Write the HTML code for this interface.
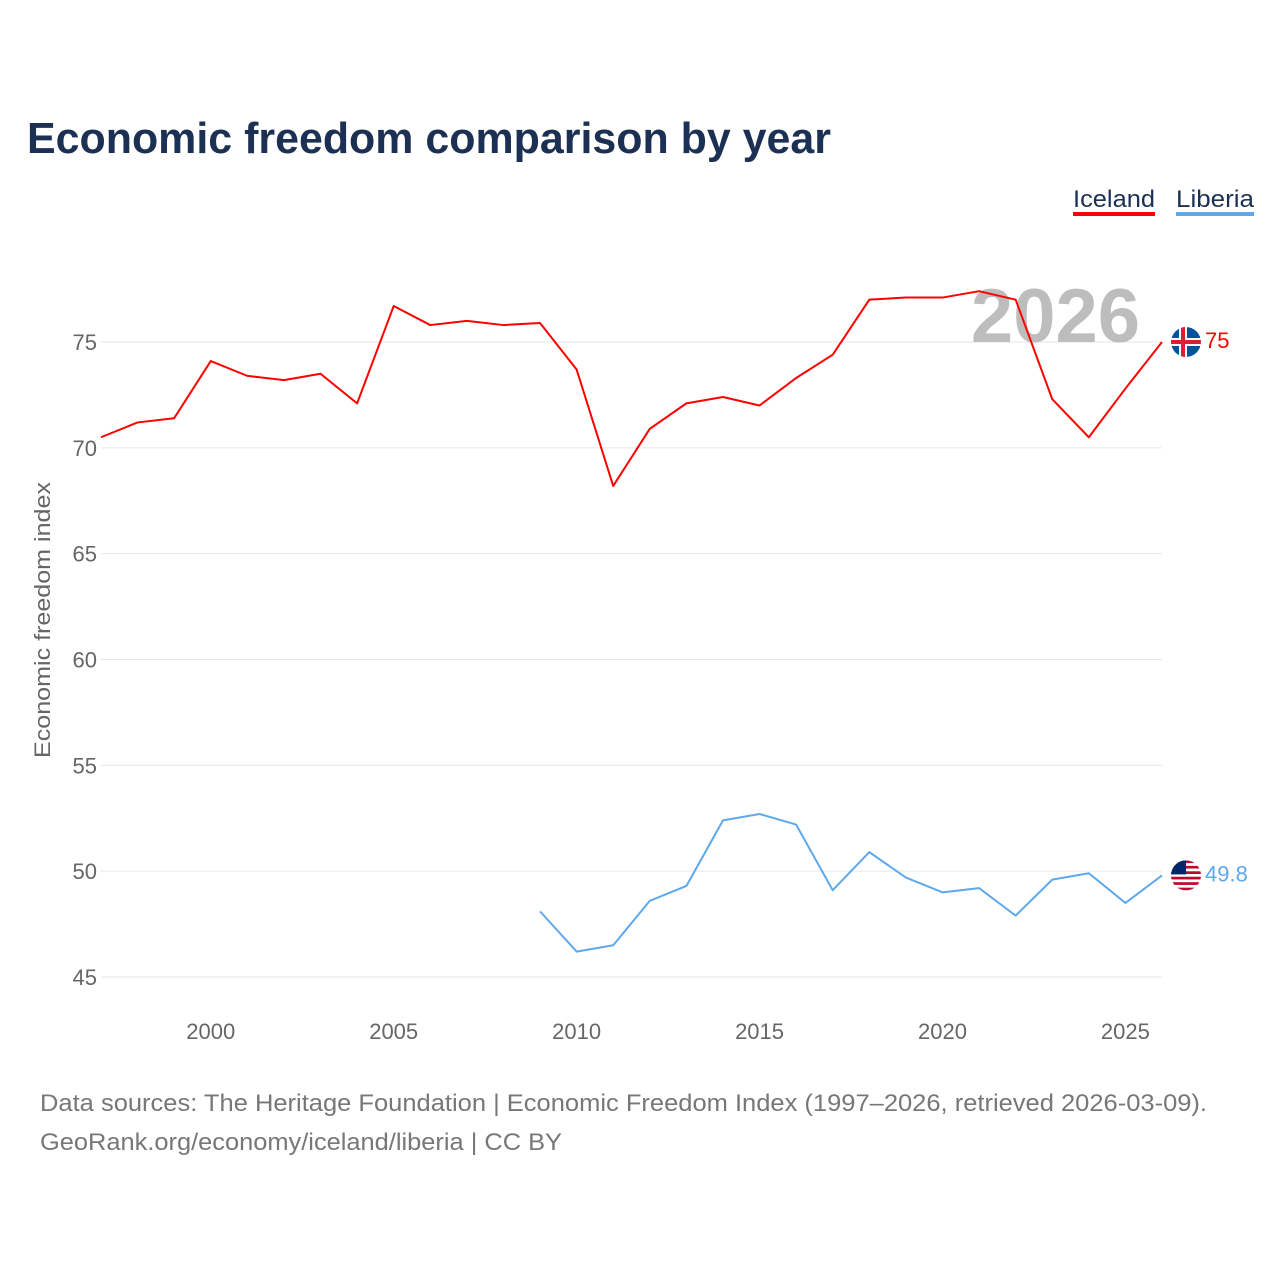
<!DOCTYPE html>
<html><head><meta charset="utf-8"><style>
body{margin:0;background:#fff;font-family:"Liberation Sans",sans-serif}
</style></head><body>
<svg width="1280" height="1280" viewBox="0 0 1280 1280" xmlns="http://www.w3.org/2000/svg" font-family="Liberation Sans, sans-serif">
<defs><clipPath id="lclip"><circle id="lclipc" cx="1186" cy="874" r="15"/></clipPath><clipPath id="iclip"><circle id="iclipc" cx="1186" cy="342" r="15"/></clipPath></defs>
<rect width="1280" height="1280" fill="#fff"/>
<text x="27" y="153" font-size="44" font-weight="bold" fill="#1b3052" textLength="804" lengthAdjust="spacingAndGlyphs">Economic freedom comparison by year</text>
<g>
<text x="1073" y="207" font-size="24" fill="#1b3052" textLength="82" lengthAdjust="spacingAndGlyphs">Iceland</text>
<rect x="1073" y="212" width="82" height="4" fill="#ff0000"/>
<text x="1176" y="207" font-size="24" fill="#1b3052" textLength="78" lengthAdjust="spacingAndGlyphs">Liberia</text>
<rect x="1176" y="212" width="78" height="4" fill="#5ea8ec"/>
</g>
<g id="grid"></g>
<text x="1140" y="342" font-size="76" font-weight="bold" fill="#bdbdbd" text-anchor="end">2026</text>
<g id="yt"></g>
<g id="xt"></g>
<text transform="translate(50,620) rotate(-90)" font-size="22" fill="#666" text-anchor="middle" textLength="276" lengthAdjust="spacingAndGlyphs">Economic freedom index</text>
<g id="series"></g>
<text x="40" y="1111" font-size="24" fill="#777" textLength="1167" lengthAdjust="spacingAndGlyphs">Data sources: The Heritage Foundation | Economic Freedom Index (1997–2026, retrieved 2026-03-09).</text>
<text x="40" y="1150" font-size="24" fill="#777" textLength="522" lengthAdjust="spacingAndGlyphs">GeoRank.org/economy/iceland/liberia | CC BY</text>
</svg>
<script>
const years=[1997,1998,1999,2000,2001,2002,2003,2004,2005,2006,2007,2008,2009,2010,2011,2012,2013,2014,2015,2016,2017,2018,2019,2020,2021,2022,2023,2024,2025,2026];
const iceland=[70.5,71.2,71.4,74.1,73.4,73.2,73.5,72.1,76.7,75.8,76.0,75.8,75.9,73.7,68.2,70.9,72.1,72.4,72.0,73.3,74.4,77.0,77.1,77.1,77.4,77.0,72.3,70.5,72.8,75.0];
const liberiaYears=[2009,2010,2011,2012,2013,2014,2015,2016,2017,2018,2019,2020,2021,2022,2023,2024,2025,2026];
const liberia=[48.1,46.2,46.5,48.6,49.3,52.4,52.7,52.2,49.1,50.9,49.7,49.0,49.2,47.9,49.6,49.9,48.5,49.8];
const yTicks=[45,50,55,60,65,70,75];
const xTicks=[2000,2005,2010,2015,2020,2025];
const NS='http://www.w3.org/2000/svg';
const X=y=>101+(y-1997)*(1162-101)/29;
const Y=v=>342+(75-v)*(977-342)/30;
function mk(t,a,p){const e=document.createElementNS(NS,t);for(const k in a)e.setAttribute(k,a[k]);p.appendChild(e);return e;}
const grid=document.getElementById('grid'),yt=document.getElementById('yt'),xt=document.getElementById('xt'),ser=document.getElementById('series');
yTicks.forEach(v=>{
 const l=mk('line',{x1:101,x2:1162,y1:Y(v),y2:Y(v),stroke:'#e6e6e6','stroke-width':1},grid);
 
 
 const t=mk('text',{x:97,y:Y(v)+8,'font-size':22,fill:'#666','text-anchor':'end'},yt);t.textContent=v;
 
 
});
xTicks.forEach(y=>{
 const t=mk('text',{x:X(y),y:1039,'font-size':22,fill:'#666','text-anchor':'middle'},xt);t.textContent=y;
 
 
});
function line(xs,vs,c,name){
 const p=mk('polyline',{points:xs.map((y,i)=>X(y)+','+Y(vs[i])).join(' '),fill:'none',stroke:c,'stroke-width':2,'stroke-linejoin':'round'},ser);
 
 
}
line(years,iceland,'#ff0000','iceland');
line(liberiaYears,liberia,'#5ea8ec','liberia');
const ix=1186,iy=Y(iceland[iceland.length-1]);
document.getElementById('iclipc').setAttribute('cy',iy);
const g1=mk('g',{'clip-path':'url(#iclip)'},ser);


mk('circle',{cx:ix,cy:iy,r:15,fill:'#02529c'},g1);
mk('rect',{x:ix-15,y:iy-4,width:30,height:8,fill:'#fff'},g1);
mk('rect',{x:ix-7,y:iy-15,width:8,height:30,fill:'#fff'},g1);
mk('rect',{x:ix-15,y:iy-2,width:30,height:4,fill:'#dc1e35'},g1);
mk('rect',{x:ix-5,y:iy-15,width:4,height:30,fill:'#dc1e35'},g1);
const t1=mk('text',{x:1205,y:iy+6,'font-size':22,fill:'#ff0000'},ser);t1.textContent=iceland[iceland.length-1];


const lx=1186,ly=Y(liberia[liberia.length-1]);
document.getElementById('lclipc').setAttribute('cy',ly);
const g2=mk('g',{'clip-path':'url(#lclip)'},ser);


mk('rect',{x:lx-15,y:ly-15,width:30,height:30,fill:'#fff'},g2);
for(let i=0;i<6;i++)mk('rect',{x:lx-15,y:ly-15+i*5.45,width:30,height:2.7,fill:'#bf0a30'},g2);
mk('rect',{x:lx-15,y:ly-15,width:15,height:14,fill:'#002868'},g2);
const t2=mk('text',{x:1205,y:ly+6,'font-size':22,fill:'#5ea8ec'},ser);t2.textContent=liberia[liberia.length-1];


</script>
</body></html>
